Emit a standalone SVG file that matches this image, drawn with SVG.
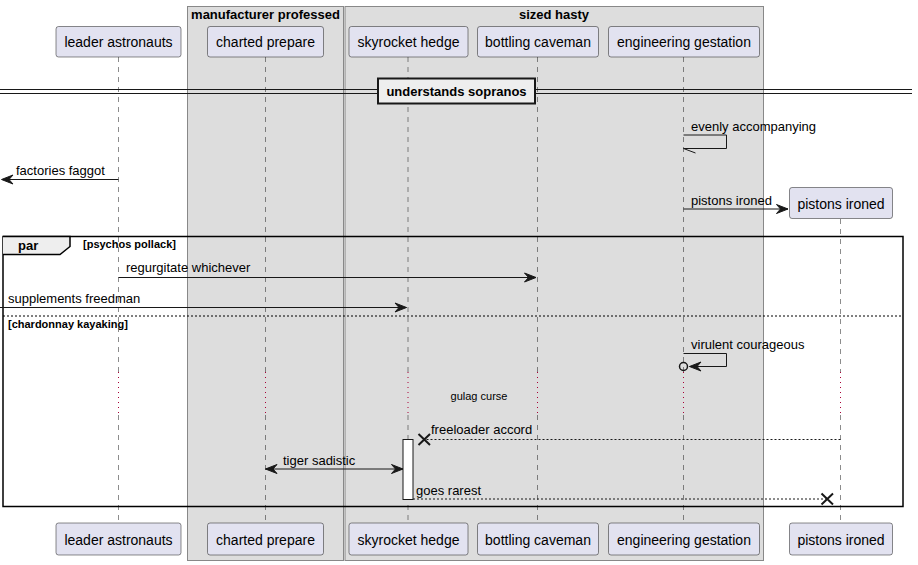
<svg xmlns="http://www.w3.org/2000/svg" width="918" height="565" viewBox="0 0 918 565">
<style>
text{font-family:"Liberation Sans",Arial,sans-serif;fill:#000}
.pt{font-size:14px}
.msg{font-size:13px}
.b{font-weight:bold}
.part{fill:#E2E2F0;stroke:#181818;stroke-width:0.5}
.grp{fill:#DDDDDD;stroke:#888888;stroke-width:1}
.life{stroke:#181818;stroke-width:0.5;stroke-dasharray:5,5;fill:none}
.delay{stroke:#A80036;stroke-width:1;stroke-dasharray:1,4;fill:none}
.ln{stroke:#181818;stroke-width:1;fill:none}
.dash{stroke:#181818;stroke-width:1;stroke-dasharray:2,2;fill:none}
.ah{fill:#181818;stroke:#181818;stroke-width:1}
.x{stroke:#181818;stroke-width:2}
</style>
<rect width="918" height="565" fill="#FFFFFF"/>
<g id="box-manufacturer-professed">
<rect class="grp" x="187.5" y="6.5" width="156" height="554"/>
<text class="msg b" x="265.5" y="19" text-anchor="middle">manufacturer professed</text>
</g>
<g id="box-sized-hasty">
<rect class="grp" x="345" y="6.5" width="418.5" height="554"/>
<text class="msg b" x="554" y="19" text-anchor="middle">sized hasty</text>
</g>
<g id="lifelines">
<path class="life" d="M118.5 57V372M118.5 415V523"/>
<path class="life" d="M265.5 57V372M265.5 415V523"/>
<path class="life" d="M408 57V372M408 415V523"/>
<path class="life" d="M537.5 57V372M537.5 415V523"/>
<path class="life" d="M683.5 57V372M683.5 415V523"/>
<path class="life" d="M840.5 219V372M840.5 415V523"/>
<path class="delay" d="M118.5 372V415M265.5 372V415M408 372V415M537.5 372V415M683.5 372V415M840.5 372V415"/>
</g>
<g id="p-leader-astronauts">
<rect class="part" x="56" y="26.5" width="125" height="30.5" rx="2.5"/>
<text class="pt" x="118.5" y="47" text-anchor="middle">leader astronauts</text>
<rect class="part" x="56" y="523" width="125" height="32" rx="2.5"/>
<text class="pt" x="118.5" y="544.5" text-anchor="middle">leader astronauts</text>
</g>
<g id="p-charted-prepare">
<rect class="part" x="207.5" y="26.5" width="116" height="30.5" rx="2.5"/>
<text class="pt" x="265.5" y="47" text-anchor="middle">charted prepare</text>
<rect class="part" x="207.5" y="523" width="116" height="32" rx="2.5"/>
<text class="pt" x="265.5" y="544.5" text-anchor="middle">charted prepare</text>
</g>
<g id="p-skyrocket-hedge">
<rect class="part" x="349" y="26.5" width="119" height="30.5" rx="2.5"/>
<text class="pt" x="408.5" y="47" text-anchor="middle">skyrocket hedge</text>
<rect class="part" x="349" y="523" width="119" height="32" rx="2.5"/>
<text class="pt" x="408.5" y="544.5" text-anchor="middle">skyrocket hedge</text>
</g>
<g id="p-bottling-caveman">
<rect class="part" x="477.5" y="26.5" width="121" height="30.5" rx="2.5"/>
<text class="pt" x="538" y="47" text-anchor="middle">bottling caveman</text>
<rect class="part" x="477.5" y="523" width="121" height="32" rx="2.5"/>
<text class="pt" x="538" y="544.5" text-anchor="middle">bottling caveman</text>
</g>
<g id="p-engineering-gestation">
<rect class="part" x="608.5" y="26.5" width="151" height="30.5" rx="2.5"/>
<text class="pt" x="684" y="47" text-anchor="middle">engineering gestation</text>
<rect class="part" x="608.5" y="523" width="151" height="32" rx="2.5"/>
<text class="pt" x="684" y="544.5" text-anchor="middle">engineering gestation</text>
</g>
<g id="p-pistons-ironed">
<rect class="part" x="789.5" y="187.5" width="103" height="31" rx="2.5"/>
<text class="pt" x="841" y="209" text-anchor="middle">pistons ironed</text>
<rect class="part" x="789.5" y="523" width="103" height="32" rx="2.5"/>
<text class="pt" x="841" y="544.5" text-anchor="middle">pistons ironed</text>
</g>
<g id="divider">
<path class="ln" d="M0 89.5H912M0 93.5H912"/>
<rect x="378" y="78.5" width="157" height="25" fill="#EEEEEE" stroke="#181818" stroke-width="2"/>
<text class="msg b" x="456.5" y="96" text-anchor="middle">understands sopranos</text>
</g>
<g id="activation">
<rect x="403" y="439.5" width="10" height="60" fill="#FFFFFF" stroke="#181818" stroke-width="1"/>
</g>
<g id="frame-par">
<rect x="3" y="236.5" width="900" height="270" fill="none" stroke="#000000" stroke-width="1.5"/>
<path d="M3 236.5H70V246.5L60 254.5H3" fill="#EEEEEE" stroke="#000000" stroke-width="1.5"/>
<text class="msg b" x="18" y="250">par</text>
<text class="b" font-size="11" x="83" y="248">[psychos pollack]</text>
<path d="M3 316H903" stroke="#000000" stroke-width="1" stroke-dasharray="2,2"/>
<text class="b" font-size="11" x="8" y="328">[chardonnay kayaking]</text>
</g>
<g id="connectors">
<path class="ln" d="M683.5 135H726.5V148.5H683.5"/>
<path class="ln" d="M683.5 148.5L695.5 153"/>
<text class="msg" x="691" y="131">evenly accompanying</text>
<path class="ln" d="M3 179.5H118.5"/>
<polygon class="ah" points="13,175 1.5,179.5 13,184 9,179.5"/>
<text class="msg" x="16" y="175">factories faggot</text>
<path class="ln" d="M683.5 209H788"/>
<polygon class="ah" points="776.5,204.5 788,209 776.5,213.5 780.5,209"/>
<text class="msg" x="691" y="205">pistons ironed</text>
<path class="ln" d="M118.5 277.5H536"/>
<polygon class="ah" points="524.5,273 536,277.5 524.5,282 528.5,277.5"/>
<text class="msg" x="126" y="272">regurgitate whichever</text>
<path class="ln" d="M0 307.5H406.5"/>
<polygon class="ah" points="395,303 406.5,307.5 395,312 399,307.5"/>
<text class="msg" x="8" y="303">supplements freedman</text>
<path class="ln" d="M683.5 353.5H726.5V366.5H689.5"/>
<polygon class="ah" points="701,362 689.5,366.5 701,371 697,366.5"/>
<circle cx="683.5" cy="366.5" r="4" fill="none" stroke="#181818" stroke-width="1.5"/>
<text class="msg" x="691" y="349">virulent courageous</text>
<text font-size="11" x="479" y="400" text-anchor="middle">gulag curse</text>
<path class="dash" d="M840.5 439.5H425"/>
<path class="x" d="M418.5 434L430 445M418.5 445L430 434"/>
<text class="msg" x="431" y="434">freeloader accord</text>
<path class="ln" d="M265.5 469H403"/>
<polygon class="ah" points="277,464.5 265.5,469 277,473.5 273,469"/>
<polygon class="ah" points="391.5,464.5 403,469 391.5,473.5 395.5,469"/>
<text class="msg" x="283" y="465">tiger sadistic</text>
<path class="dash" d="M413 499H827"/>
<path class="x" d="M821.5 493.5L833 504.5M821.5 504.5L833 493.5"/>
<text class="msg" x="416" y="495">goes rarest</text>
</g>
</svg>
